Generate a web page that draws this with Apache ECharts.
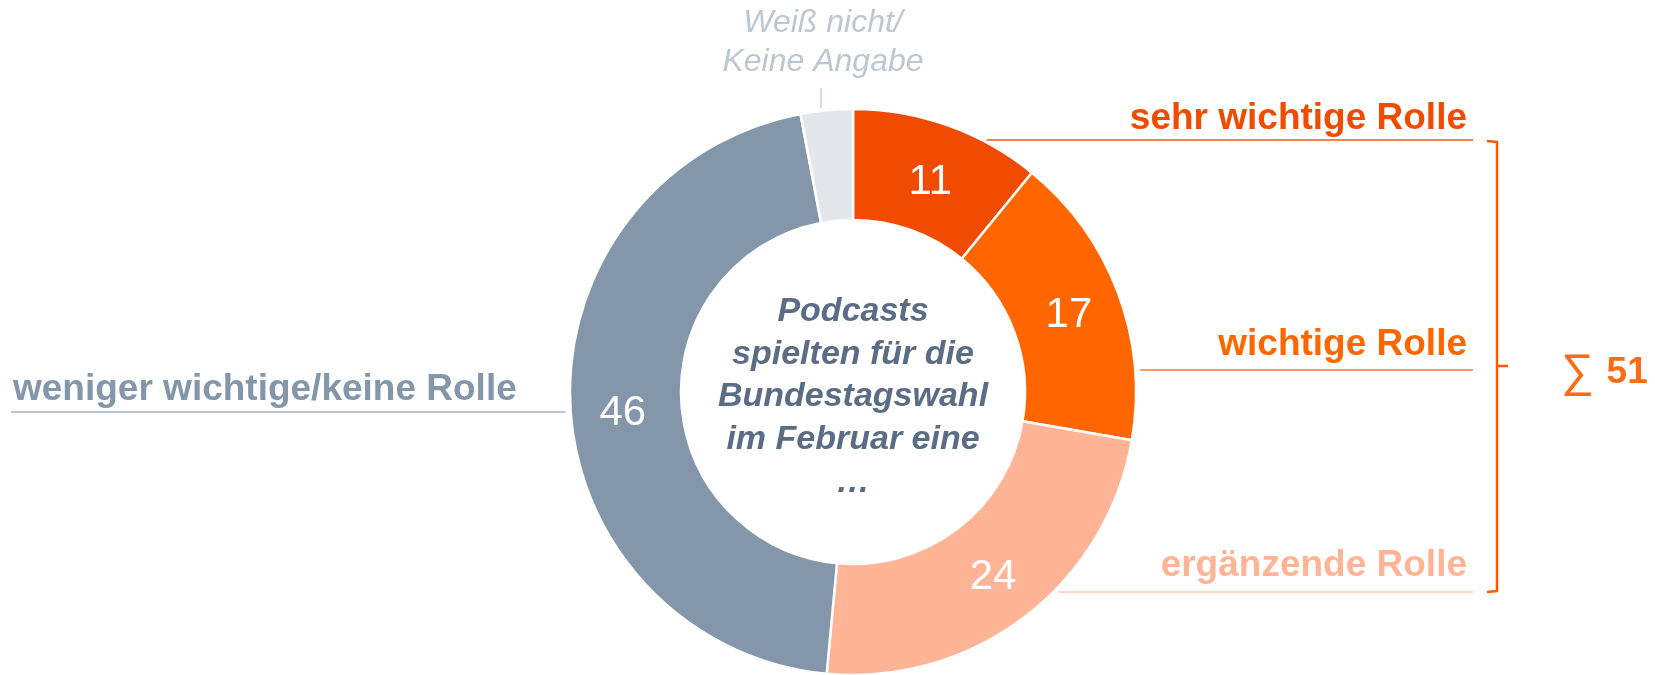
<!DOCTYPE html>
<html>
<head>
<meta charset="utf-8">
<script src="https://cdn.jsdelivr.net/npm/echarts@6/dist/echarts.min.js"></script>
<style>
  html, body { margin: 0; padding: 0; background: #ffffff; }
  #chart { width: 1655px; height: 675px; }
</style>
</head>
<body>
<div id="chart"></div>
<script>
// ---------- data ----------
const categories = [
  'sehr wichtige Rolle',
  'wichtige Rolle',
  'ergänzende Rolle',
  'weniger wichtige/keine Rolle',
  'Weiß nicht/\nKeine Angabe'
];
const values = [11, 17, 24, 46, 3];
const showValueLabel = [true, true, true, true, false];
const centerLines = ['Podcasts', 'spielten für die', 'Bundestagswahl', 'im Februar eine', '…'];
const sumValue = 51;

// ---------- styles ----------
const sliceColors = ['#F04B00', '#FF6600', '#FFB595', '#8396AA', '#E3E7EC'];
const labelColors = ['#F04B00', '#FF6600', '#FFB595', '#8396AA', '#BCC7D2'];
const lineColors  = ['#F25A14', '#FF7A2E', '#FFCDB6', '#A3B3C4', '#C9D1DA'];
const FONT = '"Liberation Sans", Arial, Helvetica, sans-serif';

// ---------- layout ----------
const CX = 853, CY = 392, R_IN = 172, R_OUT = 283;
const LINE_RIGHT_END = 1473, LINE_LEFT_END = 11, EDGE_GAP = 5;
const labelSpec = [
  { side: 'right', textX: 1467, textY: 119, lineY: 140 },
  { side: 'right', textX: 1467, textY: 345, lineY: 370 },
  { side: 'right', textX: 1467, textY: 566, lineY: 592 },
  { side: 'left',  textX: 13,   textY: 390, lineY: 412 },
  { side: 'top',   textX: 823,  textY: 43,  lineX: 821, lineTop: 88, lineBottom: 108 }
];
// downward nudge (px*2) of the inner value labels
const valueLabelGap = [15, 8, 4, 21, 0];

function edgeX(lineY, sign) {
  const dy = lineY - CY;
  return CX + sign * (Math.sqrt(Math.max(0, R_OUT * R_OUT - dy * dy)) + EDGE_GAP);
}

const valueRich = { v: { fontSize: 42, fontFamily: FONT, color: '#ffffff', lineHeight: 44 } };
valueLabelGap.forEach((g, i) => { valueRich['g' + i] = { fontSize: 1, lineHeight: Math.max(1, g), height: Math.max(1, g) }; });

const sliceData = categories.map((name, i) => ({
  name: name,
  value: values[i],
  itemStyle: { color: sliceColors[i] },
  label: { show: showValueLabel[i] }
}));

const labelData = categories.map((name, i) => {
  const isTop = labelSpec[i].side === 'top';
  return {
    name: name,
    value: values[i],
    itemStyle: { color: 'rgba(0,0,0,0)', borderWidth: 0 },
    label: isTop
      ? { color: labelColors[i], fontSize: 32, fontWeight: 'normal', fontStyle: 'italic', lineHeight: 39 }
      : { color: labelColors[i], fontSize: 37, fontWeight: 'bold', fontStyle: 'normal', lineHeight: 40 },
    labelLine: { lineStyle: { color: lineColors[i], width: isTop ? 1.5 : 1.6 } }
  };
});

const chart = echarts.init(document.getElementById('chart'), null, { renderer: 'canvas' });

chart.setOption({
  backgroundColor: '#ffffff',
  animation: false,
  series: [
    {
      type: 'pie',
      center: [CX, CY],
      radius: [R_IN, R_OUT],
      startAngle: 90,
      clockwise: true,
      silent: true,
      avoidLabelOverlap: false,
      itemStyle: { borderColor: '#ffffff', borderWidth: 2.5 },
      label: {
        position: 'inside',
        formatter: function (p) { return '{g' + p.dataIndex + '|\u00A0}\n{v|' + p.value + '}'; },
        color: '#ffffff',
        fontSize: 42,
        fontFamily: FONT,
        fontWeight: 'normal',
        rich: valueRich
      },
      labelLine: { show: false },
      data: sliceData
    },
    {
      type: 'pie',
      center: [CX, CY],
      radius: [R_IN, R_OUT],
      startAngle: 90,
      clockwise: true,
      silent: true,
      z: 5,
      avoidLabelOverlap: false,
      itemStyle: { color: 'rgba(0,0,0,0)', borderWidth: 0 },
      label: {
        show: true,
        position: 'outside',
        formatter: '{b}',
        fontFamily: FONT,
        overflow: 'none'
      },
      labelLine: { show: true, length: 10, length2: 10 },
      labelLayout: function (params) {
        const s = labelSpec[params.dataIndex];
        if (s.side === 'right') {
          const xs = edgeX(s.lineY, 1);
          return {
            x: s.textX, y: s.textY, align: 'right', verticalAlign: 'middle',
            labelLinePoints: [[xs, s.lineY], [(xs + LINE_RIGHT_END) / 2, s.lineY], [LINE_RIGHT_END, s.lineY]]
          };
        } else if (s.side === 'left') {
          const xs = edgeX(s.lineY, -1);
          return {
            x: s.textX, y: s.textY, align: 'left', verticalAlign: 'middle',
            labelLinePoints: [[xs, s.lineY], [(xs + LINE_LEFT_END) / 2, s.lineY], [LINE_LEFT_END, s.lineY]]
          };
        }
        return {
          x: s.textX, y: s.textY, align: 'center', verticalAlign: 'middle',
          labelLinePoints: [[s.lineX, s.lineBottom], [s.lineX, (s.lineTop + s.lineBottom) / 2], [s.lineX, s.lineTop]]
        };
      },
      data: labelData
    }
  ],
  graphic: [
    {
      type: 'text',
      x: CX, y: 397,
      silent: true,
      style: {
        text: centerLines.join('\n'),
        align: 'center',
        verticalAlign: 'middle',
        fontSize: 34,
        fontWeight: 'bold',
        fontStyle: 'italic',
        fontFamily: FONT,
        lineHeight: 42.7,
        fill: '#5A6D85'
      }
    },
    {
      type: 'polyline',
      silent: true,
      shape: { points: [[1487, 141], [1497, 142], [1497, 591], [1487, 592]] },
      style: { stroke: '#F55B0B', lineWidth: 2.5, fill: null, lineJoin: 'round' }
    },
    {
      type: 'line',
      silent: true,
      shape: { x1: 1497, y1: 366, x2: 1508, y2: 366 },
      style: { stroke: '#F55B0B', lineWidth: 2.5 }
    },
    {
      type: 'text',
      x: 1561, y: 373,
      silent: true,
      style: {
        text: '{s|∑ }{n|' + sumValue + '}',
        align: 'left',
        verticalAlign: 'middle',
        fontFamily: FONT,
        fill: '#FF6A14',
        rich: {
          s: { fontSize: 46, fontWeight: 'normal', fontFamily: FONT, fill: '#FF6A14', color: '#FF6A14' },
          n: { fontSize: 37, fontWeight: 'bold', fontFamily: FONT, fill: '#FF6A14', color: '#FF6A14' }
        }
      }
    }
  ]
});
</script>
</body>
</html>
